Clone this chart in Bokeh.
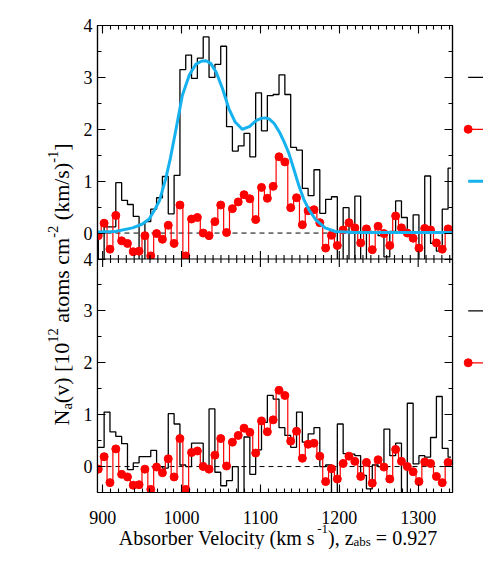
import math
from bokeh.plotting import figure
from bokeh.layouts import row, column
from bokeh.models import (Range1d, LinearAxis, FixedTicker, SingleIntervalTicker,
                          CustomJSTickFormatter)
from bokeh.core.properties import value
from bokeh.embed import file_html
from bokeh.resources import INLINE

# ---------------- data ----------------
# velocity of the red points (bin centres), km/s
velocity = [894.5, 901.9, 909.3, 916.7, 924.1, 931.5, 938.8, 946.2, 953.6, 961.0,
            968.4, 975.8, 983.2, 990.6, 998.0, 1005.4, 1012.7, 1020.1, 1027.5, 1034.9,
            1042.3, 1049.7, 1057.1, 1064.5, 1071.9, 1079.3, 1086.6, 1094.0, 1101.4, 1108.8,
            1116.2, 1123.6, 1131.0, 1138.4, 1145.8, 1153.2, 1160.5, 1167.9, 1175.3, 1182.7,
            1190.1, 1197.5, 1204.9, 1212.3, 1219.7, 1227.1, 1234.4, 1241.8, 1249.2, 1256.6,
            1264.0, 1271.4, 1278.8, 1286.2, 1293.6, 1301.0, 1308.3, 1315.7, 1323.1, 1330.5,
            1337.9]
# red series (same in both panels)
red_values = [-0.05, 0.19, -0.31, 0.34, -0.15, -0.20, -0.36, -0.35, -0.05, -0.44,
              -0.01, -0.12, 0.15, -0.20, 0.54, -0.44, 0.27, 0.30, 0.00, -0.05,
              0.22, 0.54, 0.01, 0.47, 0.60, 0.74, 0.66, 0.26, 0.88, 0.67,
              0.90, 1.47, 1.37, 0.49, 0.68, 0.16, 0.43, 0.45, 0.20, -0.29,
              -0.04, -0.24, 0.06, 0.20, 0.10, -0.19, 0.08, -0.32, 0.13, -0.01,
              -0.24, 0.33, 0.10, 0.00, -0.10, -0.29, 0.09, 0.06, -0.19, -0.31, 0.08]
# black histograms: bin centres and values (values below -0.5 run off the panel)
black_velocity = [890.8, 898.2, 905.6, 913.0, 920.4, 927.8, 935.2, 942.5, 949.9, 957.3,
                  964.7, 972.1, 979.5, 986.9, 994.3, 1001.7, 1009.0, 1016.4, 1023.8, 1031.2,
                  1038.6, 1046.0, 1053.4, 1060.8, 1068.2, 1075.6, 1082.9, 1090.3, 1097.7, 1105.1,
                  1112.5, 1119.9, 1127.3, 1134.7, 1142.1, 1149.5, 1156.8, 1164.2, 1171.6, 1179.0,
                  1186.4, 1193.8, 1201.2, 1208.6, 1216.0, 1223.4, 1230.7, 1238.1, 1245.5, 1252.9,
                  1260.3, 1267.7, 1275.1, 1282.5, 1289.9, 1297.3, 1304.6, 1312.0, 1319.4, 1326.8,
                  1334.2, 1341.6]
black_top = [0.00, -0.70, 0.12, 0.12, 0.97, 0.63, 0.55, 0.32, -0.70, 0.22,
             0.46, 0.68, 1.09, 0.37, 1.11, 3.15, 3.43, 2.98, 3.37, 3.78,
             3.00, 3.25, 3.60, 2.05, 1.58, 1.68, 1.92, 1.47, 2.70, 1.97,
             2.65, 2.67, 3.05, 2.67, 1.65, 1.60, 0.86, 0.72, 1.22, 0.38,
             0.65, 0.70, -0.70, 0.49, -0.70, 0.71, -0.70, 0.03, 0.02, -0.05,
             -0.46, 0.03, 0.62, 0.30, 0.00, 0.35, -0.70, 1.10, -0.20, -0.35,
             0.46, 1.25]
black_bottom = [0.37, 0.37, 1.05, 0.67, 0.58, 0.44, -0.06, 0.07, 0.19, 0.19,
                0.31, 0.00, -0.03, 1.02, 0.82, 0.03, 0.00, 0.45, 0.45, 0.00,
                1.11, -0.11, -0.37, -0.27, 0.00, -0.70, 0.57, -0.15, 0.32, 0.85,
                1.37, 1.30, 0.75, 0.60, 0.37, 1.05, 0.47, 0.63, 0.75, 0.00,
                0.03, -0.70, 0.82, 0.25, 0.24, 0.21, -0.17, -0.43, 0.03, 0.00,
                0.72, 0.21, 0.45, -0.70, 1.22, 0.05, 0.21, 0.18, 0.56, 1.35,
                0.35, 0.18]
# blue model curve (top panel)
blue_velocity = [893.5, 916, 938, 950, 959, 966, 972, 980, 986, 993,
                 1001, 1010, 1018, 1025, 1031, 1037, 1044, 1052, 1060, 1068,
                 1077, 1086, 1095, 1101, 1106, 1111, 1117, 1124, 1130, 1136,
                 1142, 1149, 1155, 1162, 1170, 1182, 1195, 1220, 1343.5]
blue_values = [0.02, 0.03, 0.10, 0.17, 0.27, 0.45, 0.62, 1.05, 1.45, 2.00,
               2.65, 3.05, 3.25, 3.31, 3.32, 3.27, 3.10, 2.78, 2.40, 2.14,
               2.00, 2.05, 2.17, 2.21, 2.22, 2.20, 2.12, 1.95, 1.76, 1.54,
               1.25, 0.90, 0.65, 0.44, 0.26, 0.10, 0.03, 0.01, 0.01]

x_tick_values = [900, 1000, 1100, 1200, 1300]
x_tick_labels = ["900", "1000", "1100", "1200", "1300"]
y_major = [0, 1, 2, 3, 4]
y_major_labels = ["0", "1", "2", "3", "4"]
y_minor = [0.5, 1.5, 2.5, 3.5]

# ---------------- layout constants ----------------
X_LO, X_HI = 893.5, 1343.5
Y_LO, Y_HI = -0.5, 4.0
SPAN = Y_HI - Y_LO
FRAME_W, FRAME_H = 355, 467
YT_W = 75                      # strip holding the vertical title
B_LEFT, B_RIGHT, B_TOP, B_BOTTOM = 22, 6, 25, 2
STRIP_H = 55                   # strip holding x tick labels and title
LEG_W = 25
MAIN_W = B_LEFT + FRAME_W + B_RIGHT
MAIN_H = B_TOP + FRAME_H + B_BOTTOM
TOTAL_H = MAIN_H + STRIP_H
FONT = "Liberation Serif"
BLUE = "#16b2ef"
DASH = "5 4"

kx = (X_HI - X_LO) / FRAME_W


def bare(fig):
    fig.outline_line_color = None
    fig.grid.visible = False
    fig.background_fill_color = "white"
    fig.border_fill_color = "white"


p = figure(width=MAIN_W, height=MAIN_H,
           x_range=Range1d(X_LO, X_HI), y_range=Range1d(Y_LO - SPAN, Y_HI),
           x_axis_location=None, y_axis_location=None,
           output_backend="svg", toolbar_location=None,
           min_border_left=B_LEFT, min_border_right=B_RIGHT,
           min_border_top=B_TOP, min_border_bottom=B_BOTTOM)
p.extra_y_ranges = {"bottom": Range1d(Y_LO, Y_HI + SPAN)}
bare(p)
p.outline_line_color = "black"
p.outline_line_width = 1.2

empty = CustomJSTickFormatter(code="return ''")


def style_axis(ax, labels):
    ax.major_tick_in = 8
    ax.major_tick_out = 0
    ax.minor_tick_in = 4
    ax.minor_tick_out = 0
    ax.axis_line_color = "black"
    ax.axis_line_width = 1.2
    ax.major_tick_line_width = 1.1
    ax.minor_tick_line_width = 1.1
    if labels:
        ax.major_label_text_font = FONT
        ax.major_label_text_font_size = "18px"
        ax.major_label_text_color = "black"
    else:
        ax.formatter = empty
        ax.major_label_text_font_size = "0px"
        ax.major_label_standoff = 0


xb = LinearAxis(ticker=SingleIntervalTicker(interval=100, num_minor_ticks=10))
style_axis(xb, False)
xt = LinearAxis(ticker=SingleIntervalTicker(interval=100, num_minor_ticks=10))
style_axis(xt, False)

ticks = [v - SPAN for v in y_major] + y_major
minors = [v - SPAN for v in y_minor] + y_minor
overrides = {}
for v, lab in zip(y_major, y_major_labels):
    overrides[v - SPAN] = lab
    overrides[v] = lab
yl = LinearAxis(ticker=FixedTicker(ticks=ticks, minor_ticks=minors))
style_axis(yl, True)
yl.major_label_overrides = overrides
yl.major_label_standoff = 5
yr = LinearAxis(ticker=FixedTicker(ticks=ticks, minor_ticks=minors))
style_axis(yr, False)

p.add_layout(xb, "below")
p.add_layout(xt, "above")
p.add_layout(yl, "left")
p.add_layout(yr, "right")

# ---------------- top panel ----------------
p.line([X_LO, X_HI], [0, 0], line_color="black", line_width=1, line_dash=DASH)
p.step(black_velocity, black_top, mode="center", line_color="black", line_width=1.3)
p.step(velocity, red_values, mode="center", line_color="red", line_width=1.2)
p.scatter(velocity, red_values, size=8, fill_color="red", line_color="red")
p.line(blue_velocity, blue_values, line_color=BLUE, line_width=3)

# mask: the top panel ends at its own lower edge
p.quad(left=[X_LO - 20], right=[X_HI + 20], bottom=[Y_LO - SPAN], top=[Y_LO],
       fill_color="white", line_color=None)

# ---------------- bottom panel ----------------
p.line([X_LO, X_HI], [0, 0], y_range_name="bottom", line_color="black",
       line_width=1, line_dash=DASH)
p.step(black_velocity, black_bottom, mode="center", y_range_name="bottom",
       line_color="black", line_width=1.3)
p.step(velocity, red_values, mode="center", y_range_name="bottom",
       line_color="red", line_width=1.2)
p.scatter(velocity, red_values, size=8, y_range_name="bottom",
          fill_color="red", line_color="red")

# separator between panels, with ticks both ways
p.line([X_LO, X_HI], [Y_LO, Y_LO], line_color="black", line_width=1.2)
major_x = [v for v in range(900, int(X_HI) + 1, 100)]
minor_x = [v for v in range(900, int(X_HI) + 1, 10) if v % 100 != 0]
p.scatter(major_x, [Y_LO] * len(major_x), marker="dash", size=16, angle=math.pi / 2,
          line_color="black", line_width=1.1)
p.scatter(minor_x, [Y_LO] * len(minor_x), marker="dash", size=8, angle=math.pi / 2,
          line_color="black", line_width=1.1)

# ---------------- rich-text titles ----------------
TW = {' ': 250, '(': 333, ')': 333, ',': 250, '-': 333, '.': 250, '/': 278,
      '=': 564, '[': 333, ']': 333, 'A': 722, 'N': 722, 'V': 722,
      'a': 444, 'b': 500, 'c': 444, 'e': 444, 'i': 278, 'k': 500, 'l': 278,
      'm': 778, 'n': 500, 'o': 500, 'r': 333, 's': 389, 't': 278, 'v': 500,
      'y': 500, 'z': 444}


def tw(s, size):
    return sum(TW.get(c, 500) for c in s) * size / 1000.0


BIG, SMALL = 20, 13
x_title = [("Absorber Velocity (km s", BIG, 0), ("-1", SMALL, 9), ("), z", BIG, 0),
           ("abs", SMALL, -4), (" = 0.927", BIG, 0)]
YBIG, YSMALL = 22, 14.5
y_title = [("N", YBIG, 0), ("a", YSMALL, -5.5), ("(v) [10", YBIG, 0), ("12", YSMALL, 8.5),
           (" atoms cm", YBIG, 0), ("-2", YSMALL, 8.5), (" (km/s)", YBIG, 0),
           ("-1", YSMALL, 8.5), ("]", YBIG, 0)]


def layout_pieces(pieces, start):
    """positions along the baseline, grouped by font size"""
    out = {}
    pos = start
    for s, f, off in pieces:
        lead = len(s) - len(s.lstrip(" "))
        pos += tw(" " * lead, f)
        core = s.strip(" ")
        out.setdefault(f, []).append((pos, off, core))
        pos += tw(core, f)
    return out


def total_len(pieces):
    return sum(tw(s, f) for s, f, _ in pieces)


# strip under the panels: tick labels + x title (same horizontal mapping as p)
strip = figure(width=MAIN_W, height=STRIP_H,
               x_range=Range1d(X_LO - B_LEFT * kx, X_HI + B_RIGHT * kx),
               y_range=Range1d(0, STRIP_H),
               x_axis_location=None, y_axis_location=None,
               output_backend="svg", toolbar_location=None,
               min_border_left=0, min_border_right=0,
               min_border_top=0, min_border_bottom=0)
bare(strip)
TICK_BASE = 32.5
strip.text(x=x_tick_values, y=[TICK_BASE] * len(x_tick_values), text=x_tick_labels,
           text_align="center", text_baseline="alphabetic",
           text_font=value(FONT), text_font_size=value("18px"), text_color="black")
TITLE_BASE = 12
placed = layout_pieces(x_title, FRAME_W / 2 + 3 - total_len(x_title) / 2)
for f, items in placed.items():
    strip.text(x=[X_LO + a * kx for a, o, t in items],
               y=[TITLE_BASE + o for a, o, t in items],
               text=[t for a, o, t in items],
               text_align="left", text_baseline="alphabetic",
               text_font=value(FONT), text_font_size=value(f"{f}px"), text_color="black")

# strip on the left: vertical title
yt = figure(width=YT_W, height=TOTAL_H,
            x_range=Range1d(0, YT_W), y_range=Range1d(0, TOTAL_H),
            x_axis_location=None, y_axis_location=None,
            output_backend="svg", toolbar_location=None,
            min_border_left=0, min_border_right=0,
            min_border_top=0, min_border_bottom=0)
bare(yt)
YT_BASE_X = 60.5
YT_START = 124          # lower end of the vertical title, px above the layout bottom
placed = layout_pieces(y_title, YT_START)
for f, items in placed.items():
    yt.text(x=[YT_BASE_X - o for a, o, t in items],
            y=[a for a, o, t in items],
            text=[t for a, o, t in items], angle=math.pi / 2,
            text_align="left", text_baseline="alphabetic",
            text_font=value(FONT), text_font_size=value(f"{f}px"), text_color="black")

# ---------------- legend fragments at the right edge ----------------
leg = figure(width=LEG_W, height=MAIN_H,
             x_range=Range1d(0, LEG_W), y_range=p.y_range,
             x_axis_location=None, y_axis_location=None,
             output_backend="svg", toolbar_location=None,
             min_border_left=0, min_border_right=0,
             min_border_top=B_TOP, min_border_bottom=B_BOTTOM)
leg.extra_y_ranges = {"bottom": p.extra_y_ranges["bottom"]}
bare(leg)
LX0, LX1 = 9.7, LEG_W + 10
leg.line([LX0, LX1], [3, 3], line_color="black", line_width=1.3)
leg.line([LX0, LX1], [2, 2], line_color="red", line_width=1.2)
leg.scatter([LX0], [2], size=8, fill_color="red", line_color="red")
leg.line([LX0, LX1], [1, 1], line_color=BLUE, line_width=3)
leg.line([LX0, LX1], [3, 3], y_range_name="bottom", line_color="black", line_width=1.3)
leg.line([LX0, LX1], [2, 2], y_range_name="bottom", line_color="red", line_width=1.2)
leg.scatter([LX0], [2], y_range_name="bottom", size=8, fill_color="red", line_color="red")

layout = row(yt, column(row(p, leg), strip))
open("out.html", "w").write(file_html(layout, INLINE))
